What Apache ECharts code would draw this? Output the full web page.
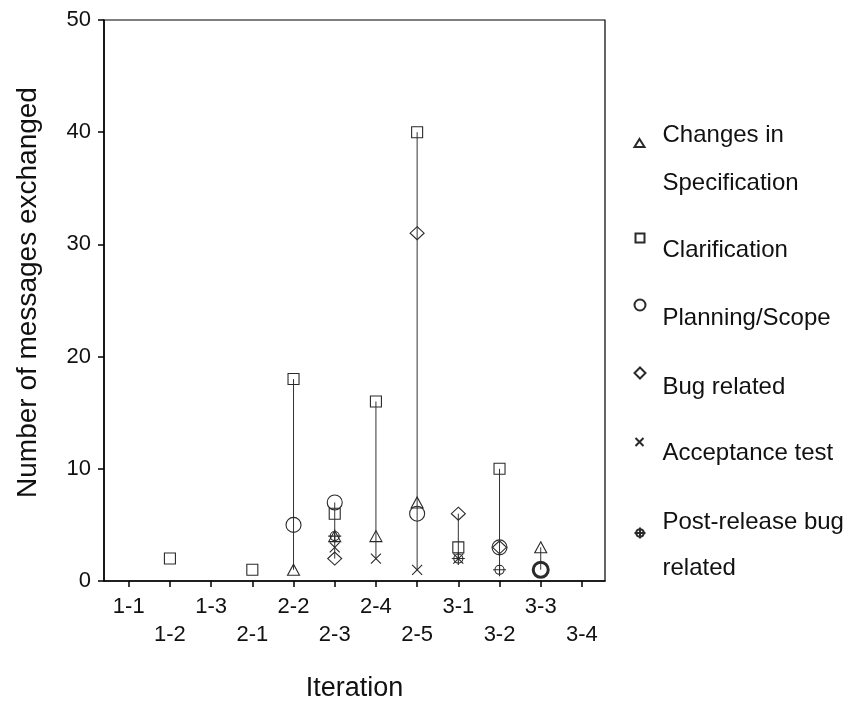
<!DOCTYPE html>
<html>
<head>
<meta charset="utf-8">
<script src="https://cdn.jsdelivr.net/npm/echarts@6/dist/echarts.min.js"></script>
<style>html,body{margin:0;padding:0;background:#fff}#c{width:848px;height:708px}</style>
</head>
<body>
<div id="c"></div>
<script>
// ---- data ----
const categories = ['1-1','1-2','1-3','2-1','2-2','2-3','2-4','2-5','3-1','3-2','3-3','3-4'];
const seriesNames = ['Changes in Specification','Clarification','Planning/Scope','Bug related','Acceptance test','Post-release bug related'];
const legendLabels = [['Changes in','Specification'],['Clarification'],['Planning/Scope'],['Bug related'],['Acceptance test'],['Post-release bug','related']];
const changesInSpec  = [null,null,null,null,1,4,4,7,null,null,3,null];
const clarification  = [null,2,null,1,18,6,16,40,3,10,null,null];
const planningScope  = [null,null,null,null,5,7,null,6,null,3,1,null];
const bugRelated     = [null,null,null,null,null,2,null,31,6,3,null,null];
const acceptanceTest = [null,null,null,null,null,3,2,1,2,null,null,null];
const postRelease    = [null,null,null,null,null,4,null,null,2,1,null,null];
const yMin = 0, yMax = 50, yStep = 10;
const xTitle = 'Iteration';
const yTitle = 'Number of messages exchanged';

// ---- option building ----
const FONT = '"Liberation Sans", Arial, sans-serif';
const TXT = '#111';
const seriesValues = [changesInSpec, clarification, planningScope, bugRelated, acceptanceTest, postRelease];
const xPath = 'path://M0,0L10,10M10,0L0,10';
const crossPath = 'path://M10,3A7,7,0,1,1,9.99,3ZM10,0L10,20M0,10L20,10';
const symbols = ['triangle','rect','circle','diamond', xPath, crossPath];
const symbolSizes = [[12,11],[11,11],15,[14,13],10,13];
const legendIconSizes = [[10,8],[9,9],[11,11],[11,11],[8,8],[11,11]];
// legend layout: [top, spacer height, lineHeight]
const legendLayout = [[79,32,48],[212,24,28],[278,26,28],[345,28,28],[417,22,28],[475,24,46]];
const LEGEND_ICON_CX = 637, LEGEND_TEXT_X = 660;

const idx = categories.map((c,i)=>i);

const scatterSeries = seriesValues.map((vals, s) => ({
  name: seriesNames[s],
  type: 'scatter',
  symbol: symbols[s],
  symbolSize: symbolSizes[s],
  z: 3,
  itemStyle: { color: 'none', borderColor: '#2a2a2a', borderWidth: 1.1, opacity: 1 },
  data: vals.map((v,i) => v == null ? null : (s === 2 && i === 10
      ? { value: [i, v], itemStyle: { borderWidth: 3 } } : [i, v])).filter(d => d !== null)
}));

const ranges = [];
categories.forEach((c,i) => {
  const vs = seriesValues.map(a => a[i]).filter(v => v != null);
  if (vs.length >= 2) {
    const lo = Math.min(...vs), hi = Math.max(...vs);
    if (hi > lo) ranges.push([i, lo, hi]);
  }
});

const lineSeries = {
  type: 'custom',
  z: 1,
  silent: true,
  encode: { x: 0, y: [1, 2] },
  data: ranges,
  renderItem: (params, api) => {
    const p1 = api.coord([api.value(0), api.value(1)]);
    const p2 = api.coord([api.value(0), api.value(2)]);
    return { type: 'line', shape: { x1: p1[0], y1: p1[1], x2: p2[0], y2: p2[1] },
             style: { stroke: '#333', lineWidth: 1 } };
  }
};

const legends = seriesNames.map((n, s) => {
  const w = legendIconSizes[s][0];
  const left = Math.round(LEGEND_ICON_CX - w / 2);
  const padL = LEGEND_TEXT_X - (left + w + 5);
  return {
    data: [n],
    orient: 'vertical',
    left: left,
    top: legendLayout[s][0],
    padding: 0,
    itemWidth: w,
    itemHeight: legendIconSizes[s][1],
    selectedMode: false,
    formatter: () => '{p| }\n' + legendLabels[s].map(t => '{t|' + t + '}').join('\n'),
    textStyle: {
      fontFamily: FONT, fontSize: 24, color: TXT,
      rich: {
        p: { fontSize: 10, height: legendLayout[s][1], lineHeight: legendLayout[s][1] },
        t: { fontFamily: FONT, fontSize: 24, color: TXT, lineHeight: legendLayout[s][2], padding: [0, 0, 0, padL] }
      }
    }
  };
});

const option = {
  animation: false,
  backgroundColor: '#fff',
  grid: { left: 104, right: 243, top: 20, bottom: 127, show: true, borderColor: '#000', borderWidth: 1.2, containLabel: false },
  legend: legends,
  xAxis: {
    type: 'value',
    min: -0.6,
    max: 11.56,
    splitLine: { show: false },
    axisLine: { show: true, onZero: false, lineStyle: { color: '#000', width: 1.5 } },
    axisTick: { show: true, customValues: idx, length: 6, lineStyle: { color: '#000', width: 1.5 } },
    axisLabel: {
      customValues: idx,
      formatter: (v) => { const i = Math.round(v); return (i % 2 ? '\n' : '') + categories[i]; },
      fontFamily: FONT, fontSize: 22, lineHeight: 28, margin: 12, color: TXT
    },
    name: xTitle,
    nameLocation: 'middle',
    nameGap: 94,
    nameTextStyle: { fontFamily: FONT, fontSize: 27, color: TXT }
  },
  yAxis: {
    type: 'value',
    min: yMin, max: yMax, interval: yStep,
    splitLine: { show: false },
    axisLine: { show: true, onZero: false, lineStyle: { color: '#000', width: 1.5 } },
    axisTick: { show: true, length: 6, lineStyle: { color: '#000', width: 1.5 } },
    axisLabel: { fontFamily: FONT, fontSize: 22, margin: 13, color: TXT },
    name: yTitle,
    nameLocation: 'middle',
    nameGap: 62,
    nameTextStyle: { fontFamily: FONT, fontSize: 28, color: TXT, padding: [0, 0, 0, 16] }
  },
  series: [lineSeries, ...scatterSeries]
};

const chart = echarts.init(document.getElementById('c'), null, { renderer: 'canvas' });
chart.setOption(option);
</script>
</body>
</html>
